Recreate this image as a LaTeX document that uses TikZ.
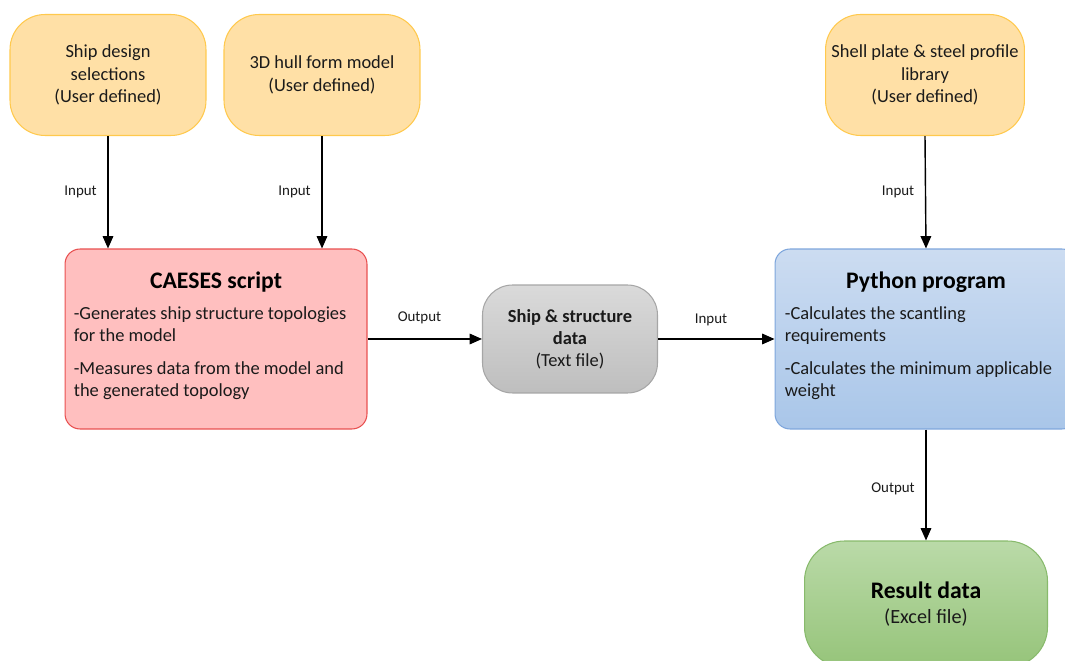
\documentclass[tikz,border=0pt]{standalone}
\usepackage{fontspec}
\setmainfont{Carlito}
\usetikzlibrary{arrows.meta}

% --- colours ---
\definecolor{userfill}{HTML}{FFE0A6}
\definecolor{userline}{HTML}{FFC94D}
\definecolor{caesfill}{HTML}{FFBFBF}
\definecolor{caesline}{HTML}{E85050}
\definecolor{datatop}{HTML}{DADADA}
\definecolor{databot}{HTML}{BEBEBE}
\definecolor{dataline}{HTML}{A6A6A6}
\definecolor{pytop}{HTML}{CCDCF1}
\definecolor{pybot}{HTML}{A9C6E9}
\definecolor{pyline}{HTML}{7EA6DC}
\definecolor{restop}{HTML}{BADAA8}
\definecolor{resbot}{HTML}{96C47A}
\definecolor{resline}{HTML}{88BA6C}
\definecolor{ink}{HTML}{1A1A1A}

\tikzset{
  userbox/.style={draw=userline, fill=userfill, line width=0.6pt, rounded corners=0.7cm,
    minimum width=3.92cm, minimum height=2.42cm, align=center, text=ink,
    font=\fontsize{10.5}{13}\selectfont},
  procbox/.style={line width=0.6pt, rounded corners=0.3cm,
    minimum width=6.04cm, minimum height=3.6cm},
  titletext/.style={font=\fontsize{13.5}{16}\selectfont\bfseries, text=black, inner sep=0pt},
  bodytext/.style={font=\fontsize{10.5}{12.6}\selectfont, text=ink, align=left, inner sep=0pt},
  flow/.style={-{Triangle[length=7pt,width=6pt]}, line width=0.8pt, black},
  lbl/.style={font=\fontsize{8.5}{10}\selectfont, text=ink, inner sep=0pt},
}

\begin{document}
\begin{tikzpicture}[x=0.02cm, y=-0.02cm]
    % --- page frame ---
    \useasboundingbox (0,0) rectangle (1065,661);
    \clip (0,0) rectangle (1065,661);

    % --- user defined inputs ---
    \node[userbox] (ship) at (108,75) {Ship design\\selections\\(User defined)};
    \node[userbox] (hull) at (322,75) {3D hull form model\\(User defined)};
    \node[userbox] (shell) at (925,75) {Shell plate \& steel profile\\library\\(User defined)};

    % --- CAESES script ---
    \node[procbox, draw=caesline, fill=caesfill] (caeses) at (216,339) {};
    \node[titletext] (caesesTitle) at ([yshift=-0.68cm]caeses.north) {CAESES script};
    \node[bodytext, anchor=north west] (caesesBody) at ([xshift=0.18cm, yshift=-1.16cm]caeses.north west)
      {-Generates ship structure topologies\\for the model\\[6pt]-Measures data from the model and\\the generated topology};

    % --- text file in between ---
    \node[draw=dataline, top color=datatop, bottom color=databot, line width=0.6pt,
      rounded corners=0.6cm, minimum width=3.5cm, minimum height=2.16cm, align=center,
      font=\fontsize{10.5}{12.6}\selectfont, text=ink] (data) at (570,339)
      {\textbf{Ship \& structure}\\\textbf{data}\\(Text file)};

    % --- Python program ---
    \node[procbox, draw=pyline, top color=pytop, bottom color=pybot] (python) at (926,339) {};
    \node[titletext] (pythonTitle) at ([yshift=-0.68cm]python.north) {Python program};
    \node[bodytext, anchor=north west] (pythonBody) at ([xshift=0.2cm, yshift=-1.16cm]python.north west)
      {-Calculates the scantling\\requirements\\[6pt]-Calculates the minimum applicable\\weight};

    % --- result ---
    \node[draw=resline, top color=restop, bottom color=resbot, line width=0.6pt,
      rounded corners=0.8cm, minimum width=4.86cm, minimum height=2.52cm, align=center,
      text=ink] (result) at (926,604)
      {{\fontsize{13.5}{16}\selectfont\bfseries\color{black} Result data}\\[2pt]{\fontsize{11.5}{14}\selectfont (Excel file)}};

    % --- connectors ---
    \draw[flow] (ship.south) -- (ship.south |- caeses.north) node[lbl, midway, left=6pt] {Input};
    \draw[flow] (hull.south) -- (hull.south |- caeses.north) node[lbl, midway, left=6pt] {Input};
    \draw[flow] (shell.south) -- (python.north) node[lbl, midway, left=6pt] {Input};
    \draw[flow] (caeses.east) -- (data.west) node[lbl, midway, above=8pt, xshift=-3pt] {Output};
    \draw[flow] (data.east) -- (python.west) node[lbl, midway, above=7pt, xshift=-3pt] {Input};
    \draw[flow] (python.south) -- (result.north) node[lbl, midway, left=6pt, yshift=-2pt] {Output};
\end{tikzpicture}
\end{document}
